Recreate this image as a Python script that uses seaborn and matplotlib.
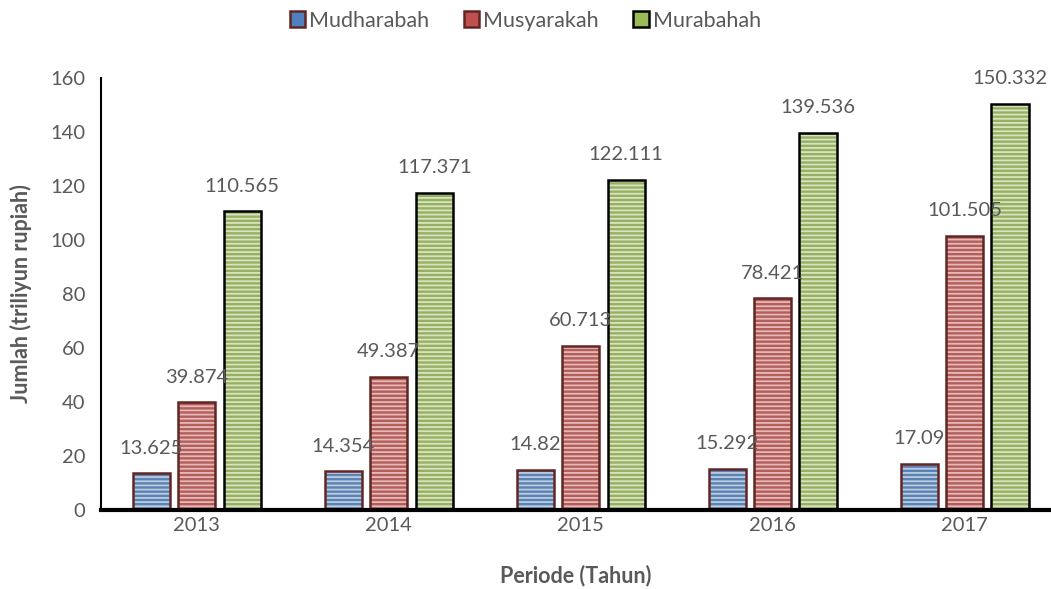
import pandas as pd
import numpy as np
import matplotlib
matplotlib.use("Agg")
import matplotlib.pyplot as plt
import matplotlib.colors as mcolors
from matplotlib.patches import Rectangle, Patch
import seaborn as sns

# Data
years = ['2013', '2014', '2015', '2016', '2017']
mudharabah = [13.625, 14.354, 14.82, 15.292, 17.09]
musyarakah = [39.874, 49.387, 60.713, 78.421, 101.505]
murabahah = [110.565, 117.371, 122.111, 139.536, 150.332]
series = ['Mudharabah', 'Musyarakah', 'Murabahah']

fill_colors = ['#4F81BD', '#C0504D', '#9BBB59']
edge_colors = ['#632523', '#632523', '#000000']

df = pd.DataFrame({
    'Tahun': years * 3,
    'Jenis': np.repeat(series, len(years)),
    'Jumlah': mudharabah + musyarakah + murabahah,
})

sns.set_theme(style='white')
plt.rcParams['font.family'] = ['Lato', 'DejaVu Sans']
plt.rcParams['hatch.linewidth'] = 1.3
text_gray = '#595959'

fig = plt.figure(figsize=(10.51, 5.89), dpi=100)
ax = fig.add_axes([0.096, 0.134, 0.904, 0.734])

sns.barplot(data=df, x='Tahun', y='Jumlah', hue='Jenis', hue_order=series,
            palette=fill_colors, width=0.71, gap=0.18, ax=ax, legend=False)

# striped fill + separate outline
for cont, fc, ec in zip(ax.containers, fill_colors, edge_colors):
    light = mcolors.to_rgb(fc)
    light = tuple(c + (1 - c) * 0.6 for c in light)
    for p in cont.patches:
        p.set_hatch('----')
        p.set_edgecolor(light)
        p.set_linewidth(0)
        ax.add_patch(Rectangle((p.get_x(), p.get_y()), p.get_width(), p.get_height(),
                               fill=False, edgecolor=ec, linewidth=1.8, zorder=p.get_zorder() + 0.1))
    labels = ['%g' % v for v in cont.datavalues]
    ax.bar_label(cont, labels=labels, padding=12, fontsize=14.5, color=text_gray)

ax.set_ylim(0, 160)
ax.set_xlim(-0.5, 4.45)
ax.set_yticks(range(0, 161, 20))
ax.tick_params(axis='y', length=0, pad=11, labelsize=14.5, labelcolor=text_gray)
ax.tick_params(axis='x', length=0, pad=5, labelsize=14.5, labelcolor=text_gray)

for side in ['top', 'right']:
    ax.spines[side].set_visible(False)
ax.spines['bottom'].set_linewidth(3)
ax.spines['bottom'].set_color('black')
ax.spines['left'].set_linewidth(1.5)
ax.spines['left'].set_color('black')

ax.set_xlabel('Periode (Tahun)', fontsize=15.5, fontweight='bold', color=text_gray, labelpad=22)
ax.set_ylabel('Jumlah (triliyun rupiah)', fontsize=15.5, fontweight='bold', color=text_gray, labelpad=13)

handles = [Patch(facecolor=fc, edgecolor=ec, linewidth=1.8) for fc, ec in zip(fill_colors, edge_colors)]
fig.legend(handles, series, loc='upper center', bbox_to_anchor=(0.5, 1.015), ncol=3, frameon=False,
           fontsize=15.5, labelcolor=text_gray, handlelength=0.7, handleheight=0.7,
           handletextpad=0.2, columnspacing=1.6)

fig.savefig('out.png', dpi=100)
